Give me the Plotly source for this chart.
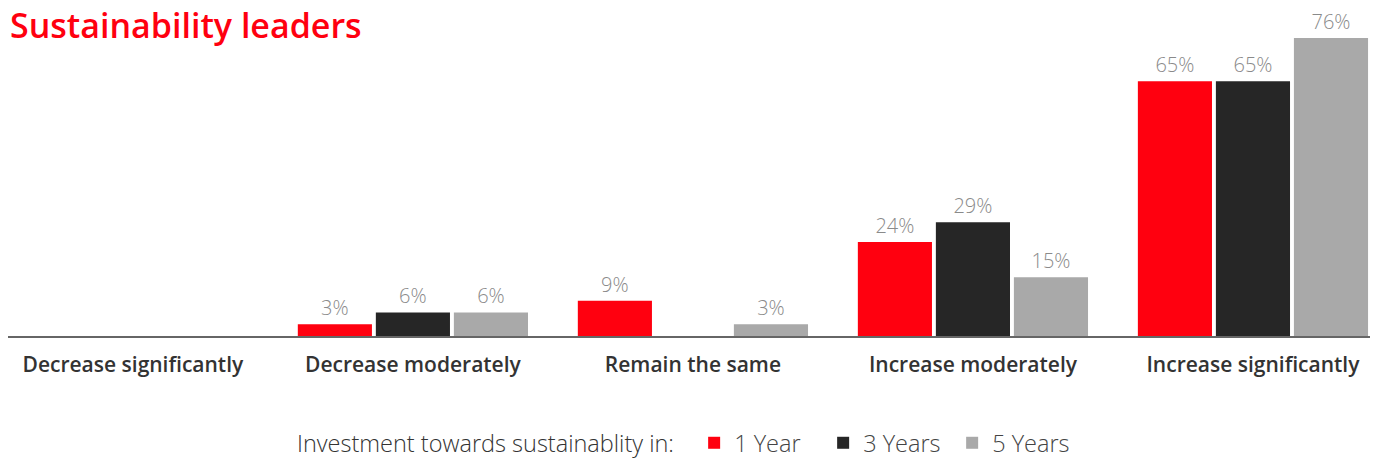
import plotly.graph_objects as go

categories = ["Decrease significantly", "Decrease moderately", "Remain the same",
              "Increase moderately", "Increase significantly"]
series_names = ["1 Year", "3 Years", "5 Years"]
one_year = [0, 3, 9, 24, 65]
three_years = [0, 6, 0, 29, 65]
five_years = [0, 6, 3, 15, 76]
colors = ["#FF000F", "#262626", "#A9A9A9"]
legend_title = "Investment towards sustainablity in:"

fig = go.Figure()
for name, vals, col in zip(series_names, [one_year, three_years, five_years], colors):
    fig.add_trace(go.Bar(
        x=categories, y=vals, name=name, marker_color=col, marker_line_width=0,
        text=[f"{v}%" if v else "" for v in vals],
        textposition="outside", cliponaxis=False,
        textfont=dict(family="Open Sans", size=20, color="#8A8A8A", weight=300),
    ))

PLOT_TOP, PLOT_BOTTOM = 20, 336
plot_h = PLOT_BOTTOM - PLOT_TOP

fig.update_layout(
    width=1377, height=459,
    margin=dict(l=8, r=7, t=PLOT_TOP, b=459 - PLOT_BOTTOM, autoexpand=False),
    paper_bgcolor="white", plot_bgcolor="white",
    barmode="group", bargap=0.164, bargroupgap=0.05,
    showlegend=True,
    legend=dict(
        orientation="h", x=0.5, xanchor="center", xref="container",
        y=(PLOT_BOTTOM - 443) / plot_h, yanchor="middle", yref="paper",
        title=dict(text=legend_title + "\u00a0\u00a0",
                   font=dict(family="Open Sans", size=23.5, color="#333333", weight=300)),
        font=dict(family="Open Sans", size=23.5, color="#444444", weight=300),
        itemwidth=30, traceorder="normal",
        entrywidth=84, entrywidthmode="pixels",
    ),
    font=dict(family="Open Sans"),
)
fig.update_xaxes(
    range=[-0.446, 4.418], showgrid=False, showline=True, linecolor="#666666",
    linewidth=2, ticks="", ticklabelstandoff=9,
    tickfont=dict(family="Open Sans", size=21, color="#333333", weight=600),
)
fig.update_yaxes(range=[0, 80.6], visible=False, showgrid=False)

fig.add_annotation(
    text="Sustainability leaders", xref="paper", yref="paper",
    x=0, y=(PLOT_BOTTOM - 25) / plot_h, xanchor="left", yanchor="middle",
    showarrow=False,
    font=dict(family="Open Sans", size=34, color="#FF000F", weight=600),
)

fig.write_html(
    "out.html",
    config={"displayModeBar": False},
    post_script="document.body.style.margin='0';document.body.style.padding='0';",
)
